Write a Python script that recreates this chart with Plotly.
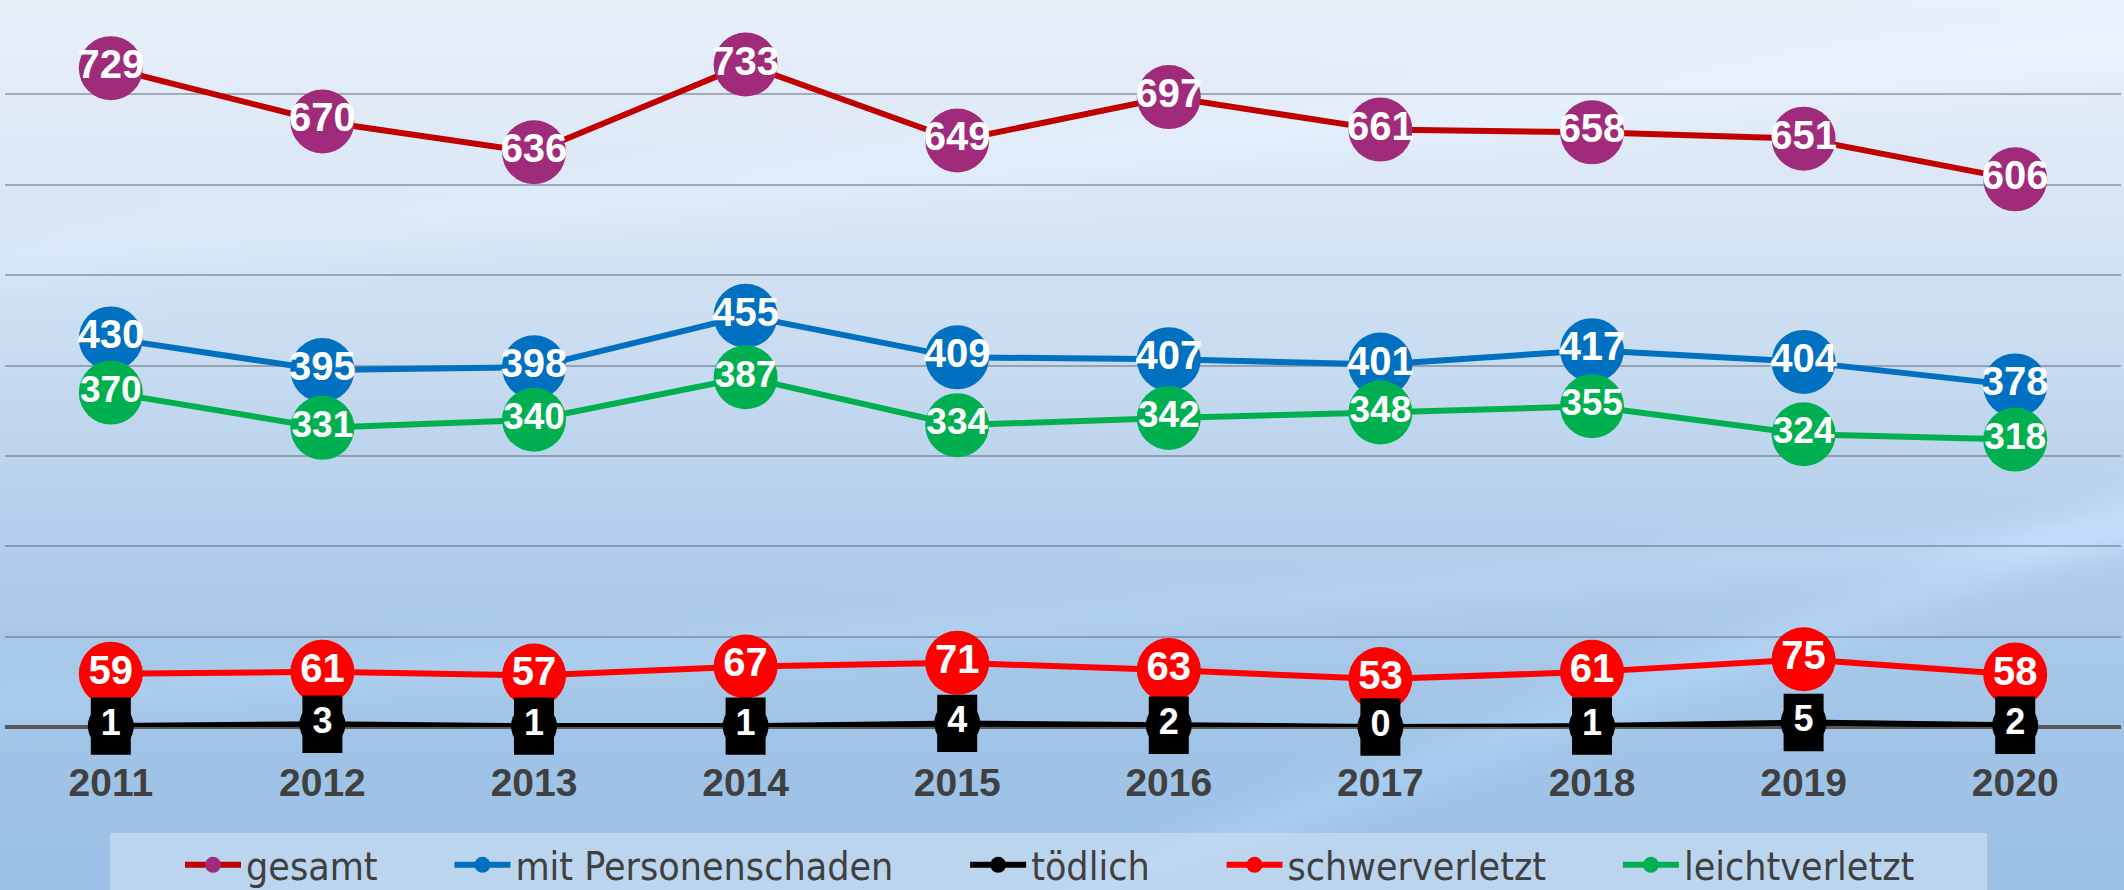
import base64, struct, zlib
import numpy as np
import plotly.graph_objects as go

# ---------------- data ----------------
years = ["2011", "2012", "2013", "2014", "2015", "2016", "2017", "2018", "2019", "2020"]
gesamt = [729, 670, 636, 733, 649, 697, 661, 658, 651, 606]
personen = [430, 395, 398, 455, 409, 407, 401, 417, 404, 378]
toedlich = [1, 3, 1, 1, 4, 2, 0, 1, 5, 2]
schwer = [59, 61, 57, 67, 71, 63, 53, 61, 75, 58]
leicht = [370, 331, 340, 387, 334, 342, 348, 355, 324, 318]

W, H = 2124, 890
ML, MR, MT, MB = 5, 3, 4, 163
PW, PH = W - ML - MR, H - MT - MB

# ---------------- background gradient image ----------------
def make_bg(w=1062, h=445):
    ys = np.linspace(0, H, h)[:, None]
    xs = np.linspace(0, W, w)[None, :]
    stops_y = [0, 150, 300, 450, 600, 750, 890]
    stops_c = [(232, 240, 250), (222, 233, 247), (207, 224, 243), (190, 213, 238),
               (172, 203, 234), (160, 196, 231), (155, 193, 230)]
    img = np.zeros((h, w, 3), dtype=float)
    for c in range(3):
        col = np.interp(ys[:, 0], stops_y, [s[c] for s in stops_c])
        img[:, :, c] = col[:, None]
    def streak(y0, x0, slope, amp, width):
        d = ys - (y0 + slope * (xs - x0))
        return amp * np.exp(-(d / width) ** 2)
    add = streak(260, 0, -0.1, 5, 35) + streak(815, 1300, -0.36, 9, 30) + streak(705, 0, -0.08, 6, 25)
    img = np.clip(img + add[:, :, None], 0, 255).astype(np.uint8)
    raw = b"".join(b"\x00" + img[r].tobytes() for r in range(h))
    def chunk(t, d):
        c = struct.pack(">I", len(d)) + t + d
        return c + struct.pack(">I", zlib.crc32(t + d) & 0xffffffff)
    png = b"\x89PNG\r\n\x1a\n" + chunk(b"IHDR", struct.pack(">IIBBBBB", w, h, 8, 2, 0, 0, 0)) \
        + chunk(b"IDAT", zlib.compress(raw, 9)) + chunk(b"IEND", b"")
    return "data:image/png;base64," + base64.b64encode(png).decode()

LABEL_FONT = "Liberation Sans, Arial, sans-serif"
LEG_FONT = "Liberation Sans Narrow, DejaVu Sans Condensed, Roboto, sans-serif"
PAD = "\u00a0" * 6

fig = go.Figure()

def add_series(name, y, line_color, marker_color, tsize=40):
    fig.add_trace(go.Scatter(
        x=years, y=y, name=name, mode="lines+markers+text",
        line=dict(color=line_color, width=6),
        marker=dict(color=marker_color, size=64, line=dict(width=0)),
        text=[str(v) for v in y], textposition="middle center",
        textfont=dict(family=LABEL_FONT, size=tsize, color="white", weight="bold"),
        cliponaxis=False,
    ))

add_series("gesamt" + PAD, gesamt, "#C00000", "#A02B7A")
add_series("mit Personenschaden" + PAD, personen, "#0070C0", "#0070C0")
fig.add_trace(go.Scatter(
    x=years, y=toedlich, name="tödlich" + PAD, mode="lines+markers",
    line=dict(color="black", width=6),
    marker=dict(color="black", size=46),
    cliponaxis=False,
))
add_series("schwerverletzt" + PAD, schwer, "#FF0000", "#FF0000")
add_series("leichtverletzt" + PAD, leicht, "#00B050", "#00B050", tsize=37)

# black label boxes for "tödlich" (drawn on top of everything)
fig.add_trace(go.Scatter(
    x=years, y=toedlich, mode="markers+text", showlegend=False, hoverinfo="skip",
    marker=dict(symbol="line-ns", size=41, color="black", line=dict(color="black", width=40)),
    text=[str(v) for v in toedlich], textposition="middle center",
    textfont=dict(family=LABEL_FONT, size=36, color="white", weight="bold"),
    cliponaxis=False,
))

fig.update_layout(
    width=W, height=H,
    margin=dict(l=ML, r=MR, t=MT, b=MB, pad=0),
    paper_bgcolor="#C6DBF0",
    plot_bgcolor="rgba(0,0,0,0)",
    showlegend=True,
    images=[dict(source=make_bg(), xref="paper", yref="paper",
                 x=-ML / PW, y=1 + MT / PH, sizex=W / PW, sizey=H / PH,
                 xanchor="left", yanchor="top", sizing="stretch", layer="below")],
    legend=dict(
        orientation="h", xref="container", yref="container",
        x=110 / W, y=(H - 833) / H, xanchor="left", yanchor="top",
        bgcolor="rgba(196,218,240,0.8)", borderwidth=0,
        font=dict(family=LEG_FONT, size=39, color="#404040"),
        itemwidth=56, traceorder="normal",
        title=dict(text="\u00a0" * 5, side="left", font=dict(family=LEG_FONT, size=42)),
    ),
    xaxis=dict(
        type="category", range=[-0.5, 9.5], showgrid=False, zeroline=False, showline=False,
        tickfont=dict(family=LABEL_FONT, size=39, color="#404040", weight="bold"),
        ticks="", ticklabelstandoff=29,
    ),
    yaxis=dict(
        range=[0, 800], dtick=100, showticklabels=False, ticks="",
        showgrid=True, gridcolor="rgba(95,105,120,0.5)", gridwidth=2,
        zeroline=True, zerolinecolor="#595959", zerolinewidth=4,
    ),
)

fig.write_html("out.html", config={"displayModeBar": False},
               post_script="document.body.style.margin='0px';")
